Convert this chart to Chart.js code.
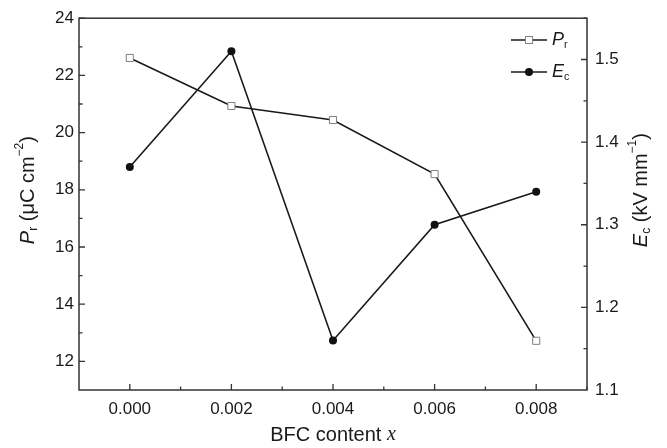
<!DOCTYPE html>
<html>
<head>
<meta charset="utf-8">
<title>Pr and Ec vs BFC content</title>
<script src="https://cdn.jsdelivr.net/npm/chart.js@4.4.1/dist/chart.umd.min.js"></script>
<style>
  html, body { margin: 0; padding: 0; background: #fff; }
  #wrap { width: 667px; height: 448px; }
</style>
</head>
<body>
<div id="wrap"><canvas id="plot" width="667" height="448"></canvas></div>
<script>
// BFC content x
const contents = [0.000, 0.002, 0.004, 0.006, 0.008];
// remanent polarization Pr (uC/cm2), left axis
const prValues = [22.61, 20.93, 20.44, 18.55, 12.72];
// coercive field Ec (kV/mm), right axis
const ecValues = [1.37, 1.51, 1.16, 1.30, 1.34];

const xTicks = [0.000, 0.002, 0.004, 0.006, 0.008];
const prTicks = [12, 14, 16, 18, 20, 22, 24];
const ecTicks = [1.1, 1.2, 1.3, 1.4, 1.5];

const SANS = '"Liberation Sans", Arial, sans-serif';
const INK = '#1a1a1a';

// draws a run of text pieces (italic / sub / sup) starting at x, baseline y
function richWidth(ctx, parts, size) {
    let w = 0;
    parts.forEach(p => {
        const s = p.sub || p.sup ? size * 0.6 : size;
        ctx.font = (p.italic ? 'italic ' : '') + s + 'px ' + (p.serif ? '"Liberation Serif", serif' : SANS);
        w += ctx.measureText(p.t).width;
    });
    return w;
}
function drawRich(ctx, parts, x, y, size) {
    parts.forEach(p => {
        const s = p.sub || p.sup ? size * 0.6 : size;
        ctx.font = (p.italic ? 'italic ' : '') + s + 'px ' + (p.serif ? '"Liberation Serif", serif' : SANS);
        let dy = 0;
        if (p.sub) dy = size * 0.28;
        if (p.sup) dy = -size * 0.42;
        ctx.fillText(p.t, x, y + dy);
        x += ctx.measureText(p.t).width;
    });
}

const prTitle = [{t: 'P', italic: true}, {t: 'r', sub: true}, {t: ' (\u03bcC cm'}, {t: '\u22122', sup: true}, {t: ')'}];
const ecTitle = [{t: 'E', italic: true}, {t: 'c', sub: true}, {t: ' (kV mm'}, {t: '\u22121', sup: true}, {t: ')'}];
const xTitle = [{t: 'BFC content '}, {t: 'x', italic: true, serif: true}];

// frame, inward tick marks, axis titles and legend
const decor = {
    id: 'decor',
    afterDraw(chart) {
        const ctx = chart.ctx;
        const a = chart.chartArea;
        const sx = chart.scales.x, sy = chart.scales.y, sy1 = chart.scales.y1;
        ctx.save();
        ctx.strokeStyle = '#333';
        ctx.lineWidth = 1.5;
        ctx.strokeRect(a.left, a.top, a.right - a.left, a.bottom - a.top);

        ctx.lineWidth = 1.3;
        ctx.beginPath();
        const major = 6, minor = 3.5;
        for (let i = 0; i < xTicks.length; i++) {
            const px = sx.getPixelForValue(xTicks[i]);
            ctx.moveTo(px, a.bottom); ctx.lineTo(px, a.bottom - major);
            const mx = sx.getPixelForValue(xTicks[i] + 0.001);
            ctx.moveTo(mx, a.bottom); ctx.lineTo(mx, a.bottom - minor);
        }
        for (let i = 0; i < prTicks.length; i++) {
            const py = sy.getPixelForValue(prTicks[i]);
            ctx.moveTo(a.left, py); ctx.lineTo(a.left + major, py);
            const my = sy.getPixelForValue(prTicks[i] + 1);
            if (prTicks[i] + 1 < 24) { ctx.moveTo(a.left, my); ctx.lineTo(a.left + minor, my); }
        }
        for (let i = 0; i < ecTicks.length; i++) {
            const py = sy1.getPixelForValue(ecTicks[i]);
            if (i > 0) { ctx.moveTo(a.right, py); ctx.lineTo(a.right - major, py); }
            const my = sy1.getPixelForValue(ecTicks[i] + 0.05);
            ctx.moveTo(a.right, my); ctx.lineTo(a.right - minor, my);
        }
        ctx.stroke();

        // axis titles
        ctx.fillStyle = INK;
        ctx.textBaseline = 'middle';
        ctx.textAlign = 'left';
        const ts = 20;
        const midY = (a.top + a.bottom) / 2 - 14;
        let w = richWidth(ctx, prTitle, ts);
        ctx.save();
        ctx.translate(28, midY);
        ctx.rotate(-Math.PI / 2);
        drawRich(ctx, prTitle, -w / 2, 0, ts);
        ctx.restore();

        w = richWidth(ctx, ecTitle, ts);
        ctx.save();
        ctx.translate(641, midY);
        ctx.rotate(-Math.PI / 2);
        drawRich(ctx, ecTitle, -w / 2, 0, ts);
        ctx.restore();

        w = richWidth(ctx, xTitle, ts);
        drawRich(ctx, xTitle, (a.left + a.right) / 2 - w / 2, 435, ts);

        // legend
        const rows = [
            {y: 40, parts: [{t: 'P', italic: true}, {t: 'r', sub: true}], mark: 'square'},
            {y: 72, parts: [{t: 'E', italic: true}, {t: 'c', sub: true}], mark: 'dot'}
        ];
        rows.forEach(r => {
            ctx.strokeStyle = INK;
            ctx.lineWidth = 1.6;
            ctx.beginPath();
            ctx.moveTo(511, r.y); ctx.lineTo(547, r.y);
            ctx.stroke();
            if (r.mark === 'square') {
                ctx.fillStyle = '#fff';
                ctx.fillRect(525.5, r.y - 3.5, 7, 7);
                ctx.strokeStyle = '#808080';
                ctx.lineWidth = 1;
                ctx.strokeRect(525.5, r.y - 3.5, 7, 7);
            } else {
                ctx.fillStyle = '#111';
                ctx.beginPath();
                ctx.arc(529, r.y, 4, 0, Math.PI * 2);
                ctx.fill();
            }
            ctx.fillStyle = INK;
            drawRich(ctx, r.parts, 552, r.y, 18);
        });
        ctx.restore();
    }
};

const tickFont = {family: SANS, size: 17};

new Chart(document.getElementById('plot'), {
    type: 'line',
    data: {
        datasets: [
            {
                label: 'Pr',
                data: contents.map((x, i) => ({x: x, y: prValues[i]})),
                yAxisID: 'y',
                borderColor: INK,
                borderWidth: 1.6,
                pointStyle: 'rect',
                pointRadius: 5,
                pointBorderWidth: 1,
                pointBorderColor: '#808080',
                pointBackgroundColor: '#fff',
                tension: 0
            },
            {
                label: 'Ec',
                data: contents.map((x, i) => ({x: x, y: ecValues[i]})),
                yAxisID: 'y1',
                borderColor: INK,
                borderWidth: 1.6,
                pointStyle: 'circle',
                pointRadius: 4,
                pointBorderWidth: 0,
                pointBackgroundColor: '#111',
                tension: 0
            }
        ]
    },
    options: {
        responsive: false,
        animation: false,
        devicePixelRatio: 1,
        layout: {padding: {top: 13, left: 0, right: 0, bottom: 0}},
        plugins: {legend: {display: false}, tooltip: {enabled: false}},
        scales: {
            x: {
                type: 'linear',
                min: -0.001,
                max: 0.009,
                afterBuildTicks: s => { s.ticks = xTicks.map(v => ({value: v})); },
                afterFit: s => { s.height = 58; },
                grid: {display: false, drawTicks: false},
                border: {display: false},
                ticks: {font: tickFont, color: INK, padding: 9, maxRotation: 0, callback: v => v.toFixed(3)}
            },
            y: {
                position: 'left',
                min: 11,
                max: 24,
                afterBuildTicks: s => { s.ticks = prTicks.map(v => ({value: v})); },
                afterFit: s => { s.width = 79; },
                grid: {display: false, drawTicks: false},
                border: {display: false},
                ticks: {font: tickFont, color: INK, padding: 5}
            },
            y1: {
                position: 'right',
                min: 1.1,
                max: 1.55,
                afterBuildTicks: s => { s.ticks = ecTicks.map(v => ({value: v})); },
                afterFit: s => { s.width = 80; },
                grid: {display: false, drawTicks: false},
                border: {display: false},
                ticks: {font: tickFont, color: INK, padding: 8, callback: v => v.toFixed(1)}
            }
        }
    },
    plugins: [decor]
});
</script>
</body>
</html>
